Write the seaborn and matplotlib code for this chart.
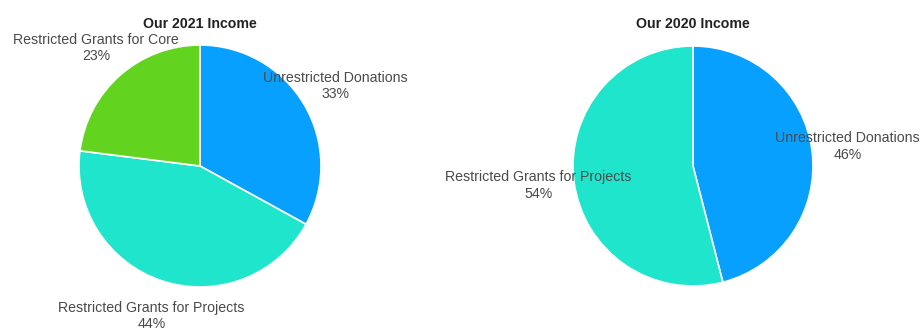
import matplotlib
matplotlib.use('Agg')
import matplotlib.pyplot as plt
import seaborn as sns

# income split per year (percent)
labels_2021 = ['Unrestricted Donations', 'Restricted Grants for Projects', 'Restricted Grants for Core']
values_2021 = [33, 44, 23]
labels_2020 = ['Unrestricted Donations', 'Restricted Grants for Projects']
values_2020 = [46, 54]
titles = ['Our 2021 Income', 'Our 2020 Income']

colour_map = {
    'Unrestricted Donations': '#08a0fe',
    'Restricted Grants for Projects': '#1fe5cc',
    'Restricted Grants for Core': '#62d420',
}

sns.set_theme(style='white')
plt.rcParams['font.family'] = ['Liberation Sans', 'DejaVu Sans']

W, H = 922, 331
fig = plt.figure(figsize=(W / 100, H / 100), dpi=100)


def draw_pie(cx, cy, R, half_w, half_h, labels, values, title):
    # cx, cy in pixels from top-left; axes box centred on the pie
    ax = fig.add_axes([(cx - half_w) / W, (H - cy - half_h) / H,
                       2 * half_w / W, 2 * half_h / H])
    txt = [f'{l}\n{v}%' for l, v in zip(labels, values)]
    wedges, texts = ax.pie(values, labels=txt, startangle=90, counterclock=False,
                           colors=[colour_map[l] for l in labels], radius=1,
                           labeldistance=1.3,
                           wedgeprops=dict(edgecolor='white', linewidth=1.2),
                           textprops=dict(fontsize=10.2, color='#4a4a4a', linespacing=1.2))
    for t in texts:
        t.set_ha('center')
        t.set_va('center')
    ax.set_xlim(-half_w / R, half_w / R)
    ax.set_ylim(-half_h / R, half_h / R)
    ax.set_aspect('auto')
    ax.set_axis_off()
    ax.text(0, 142 / R, title, ha='center', va='center', fontsize=10.2,
            fontweight='bold', color='#222222')
    return ax


ax1 = draw_pie(200, 166, 121, 200, 165, labels_2021, values_2021, titles[0])
ax2 = draw_pie(693, 166, 120, 229, 165, labels_2020, values_2020, titles[1])

fig.savefig('out.png', dpi=100, facecolor='white')
